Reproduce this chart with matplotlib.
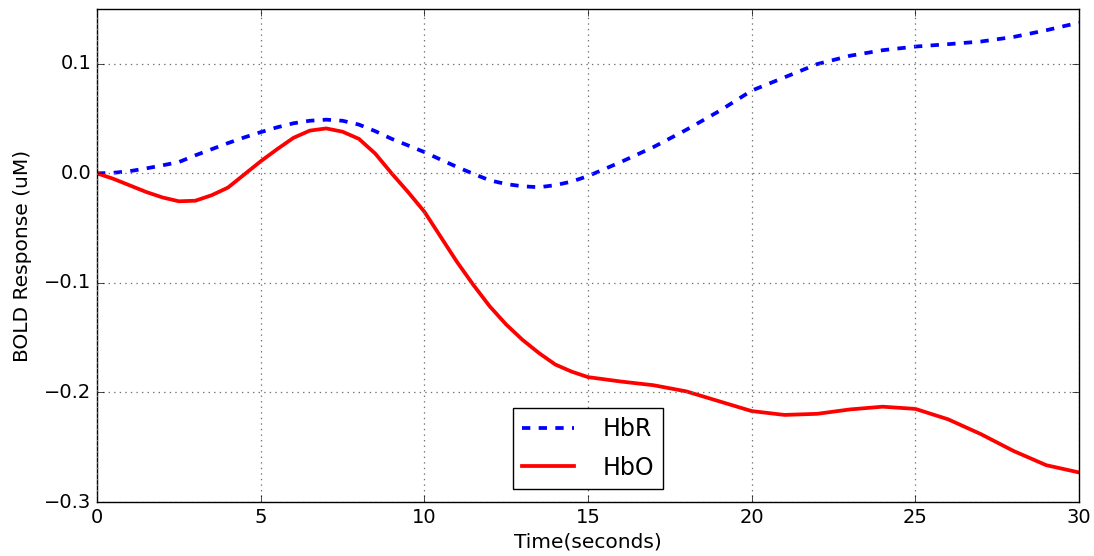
import matplotlib
matplotlib.use("Agg")
import matplotlib.pyplot as plt

plt.style.use("classic")

time_s = [0, 0.5, 1, 1.5, 2, 2.5, 3, 3.5, 4, 4.5, 5, 5.5, 6, 6.5, 7, 7.5, 8, 8.5, 9,
          9.5, 10, 10.5, 11, 11.5, 12, 12.5, 13, 13.5, 14, 14.5, 15, 16, 17,
          18, 19, 20, 21, 22, 23, 24, 25, 26, 27, 28, 29, 30]
hbr = [0.0, 0.0005, 0.002, 0.0045, 0.0073, 0.0103, 0.0164, 0.0220, 0.0276, 0.0328,
       0.0376, 0.0420, 0.0457, 0.0480, 0.0490, 0.0480, 0.0445, 0.0385, 0.0315,
       0.0255, 0.0194, 0.0125, 0.0058, -0.0005, -0.0064, -0.0098, -0.0118, -0.0127,
       -0.0108, -0.0075, -0.0025, 0.0103, 0.0240, 0.0397, 0.0567, 0.0755, 0.0876,
       0.0997, 0.1073, 0.1124, 0.1157, 0.1179, 0.1203, 0.1245, 0.1306, 0.1376]
hbo = [0.0, -0.005, -0.011, -0.017, -0.022, -0.0255, -0.0250, -0.020, -0.013,
       -0.001, 0.011, 0.022, 0.0324, 0.039, 0.0410, 0.038, 0.0315, 0.018, 0.0,
       -0.017, -0.035, -0.058, -0.081, -0.102, -0.1215, -0.138, -0.152, -0.164,
       -0.1745, -0.181, -0.186, -0.190, -0.1934, -0.199, -0.208, -0.217, -0.2205,
       -0.2195, -0.2155, -0.2130, -0.2150, -0.2245, -0.238, -0.2534, -0.2664, -0.273]

x_ticks = [0, 5, 10, 15, 20, 25, 30]
y_ticks = [-0.3, -0.2, -0.1, 0.0, 0.1]

fig = plt.figure(figsize=(10.94, 5.56), dpi=100, facecolor="white")
ax = fig.add_axes([0.0887, 0.0971, 0.8976, 0.8867])
ax.set_facecolor("white")

ax.plot(time_s, hbr, color="blue", linestyle="--", linewidth=2.7, label="HbR",
        solid_joinstyle="round", dash_joinstyle="round")
ax.plot(time_s, hbo, color="red", linestyle="-", linewidth=2.7, label="HbO",
        solid_joinstyle="round")

ax.set_xlim(0, 30)
ax.set_ylim(-0.3, 0.15)
ax.set_xticks(x_ticks)
ax.set_xticklabels([str(t) for t in x_ticks])
ax.set_yticks(y_ticks)
ax.set_yticklabels(["\u22120.3", "\u22120.2", "\u22120.1", "0.0", "0.1"])
ax.tick_params(labelsize=14, direction="in", top=True, right=True, length=5)
ax.grid(True, linestyle=":", color="0.45", linewidth=0.9)

ax.set_xlabel("Time(seconds)", fontsize=14.5, labelpad=4)
ax.set_ylabel("BOLD Response (uM)", fontsize=14.5, labelpad=9)

leg = ax.legend(loc="lower center", fontsize=17, frameon=True, fancybox=False,
                borderaxespad=0.55, handlelength=2.2, labelspacing=0.6,
                handletextpad=1.2, numpoints=1)
leg.get_frame().set_edgecolor("black")
leg.get_frame().set_linewidth(1.0)

fig.savefig("out.png", dpi=100, facecolor="white")
